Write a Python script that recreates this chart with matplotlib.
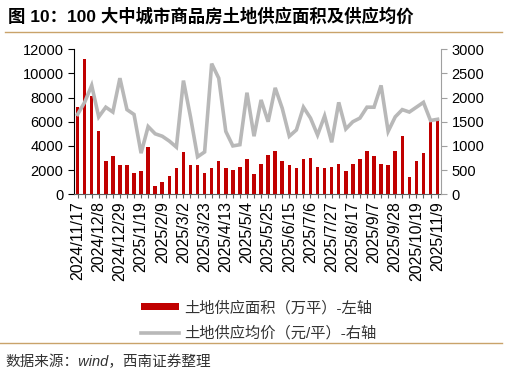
import numpy as np
import matplotlib
matplotlib.use('Agg')
import matplotlib.pyplot as plt
from matplotlib.lines import Line2D

plt.rcParams['font.family'] = ['Liberation Sans', 'Noto Sans CJK SC']
plt.rcParams['axes.unicode_minus'] = False

# 周度数据：2024/11/17 - 2025/11/9
start = np.datetime64('2024-11-17')
weeks = start + np.arange(52) * np.timedelta64(7, 'D')
date_labels = [f"{d.astype(object).year}/{d.astype(object).month}/{d.astype(object).day}" for d in weeks]

# 土地供应面积（万平）-左轴
supply_area = [7250, 11200, 8100, 5250, 2750, 3150, 2400, 2400, 1750, 1900,
               3900, 700, 1000, 1500, 2150, 3500, 2400, 2400, 1750, 2150,
               2750, 2150, 2000, 2250, 2900, 1650, 2500, 3250, 3600, 2750,
               2400, 2150, 2900, 3000, 2250, 2150, 2250, 2500, 1900, 2500,
               2900, 3600, 3150, 2500, 2400, 3600, 4850, 1400, 2750, 3400,
               6100, 6300]

# 土地供应均价（元/平）-右轴
avg_price = [1650, 1900, 2250, 1600, 1800, 1700, 2400, 1750, 1650, 850,
             1400, 1250, 1200, 1100, 975, 2350, 1600, 775, 875, 2700,
             2400, 1300, 1000, 1025, 2100, 1200, 1950, 1500, 2200, 1775,
             1200, 1330, 1800, 1575, 1225, 1620, 1075, 1900, 1350, 1500,
             1575, 1800, 1800, 2250, 1300, 1600, 1750, 1700, 1800, 1900,
             1525, 1550]

x = np.arange(len(weeks))

fig = plt.figure(figsize=(5.07, 3.78), dpi=100)
ax = fig.add_axes([0.146, 0.486, 0.724, 0.384])

bars = ax.bar(x, supply_area, width=0.5, color='#C00000', zorder=2)
ax.set_xlim(-0.5, len(x) - 0.5)
ax.set_ylim(0, 12000)
ax.set_yticks(np.arange(0, 12001, 2000))

ax2 = ax.twinx()
line, = ax2.plot(x, avg_price, color='#B8B8B8', lw=2.6, solid_joinstyle='miter')
ax2.set_ylim(0, 3000)
ax2.set_yticks(np.arange(0, 3001, 500))

ax.set_xticks(x)
ax.set_xticklabels([lab if i % 3 == 0 else '' for i, lab in enumerate(date_labels)],
                   rotation=90, fontsize=11.5)
ax.tick_params(axis='x', length=3, color='#606060', pad=2)
ax.tick_params(axis='y', labelsize=10.5, length=4, color='black')
ax2.tick_params(axis='y', labelsize=10.5, length=4, color='#A0A0A0')

for a in (ax, ax2):
    a.spines['top'].set_visible(False)
ax.spines['right'].set_visible(False)
ax2.spines['left'].set_visible(False)
ax2.spines['bottom'].set_visible(False)
ax2.spines['right'].set_color('#A0A0A0')
ax.spines['bottom'].set_color('#606060')
ax.spines['left'].set_color('black')

fig.legend([bars, line],
           ['土地供应面积（万平）-左轴', '土地供应均价（元/平）-右轴'],
           loc='center', bbox_to_anchor=(0.51, 0.152), frameon=False,
           fontsize=11, handlelength=2.5, handleheight=0.35, labelspacing=0.68,
           handletextpad=0.35, labelcolor='#333333')

fig.text(0.016, 0.958, '图 10：100 大中城市商品房土地供应面积及供应均价',
         fontsize=12.5, fontweight='bold', va='center', ha='left')
fig.add_artist(Line2D([0.01, 0.99], [0.916, 0.916], transform=fig.transFigure,
                      color='#C9A36A', lw=1))
fig.add_artist(Line2D([0.0, 0.99], [0.092, 0.092], transform=fig.transFigure,
                      color='#C9A36A', lw=1))
fig.text(0.01, 0.042, '数据来源：wind，西南证券整理', fontsize=10.5,
         style='italic', va='center', ha='left', color='#333333')

fig.savefig('out.png', dpi=100)
